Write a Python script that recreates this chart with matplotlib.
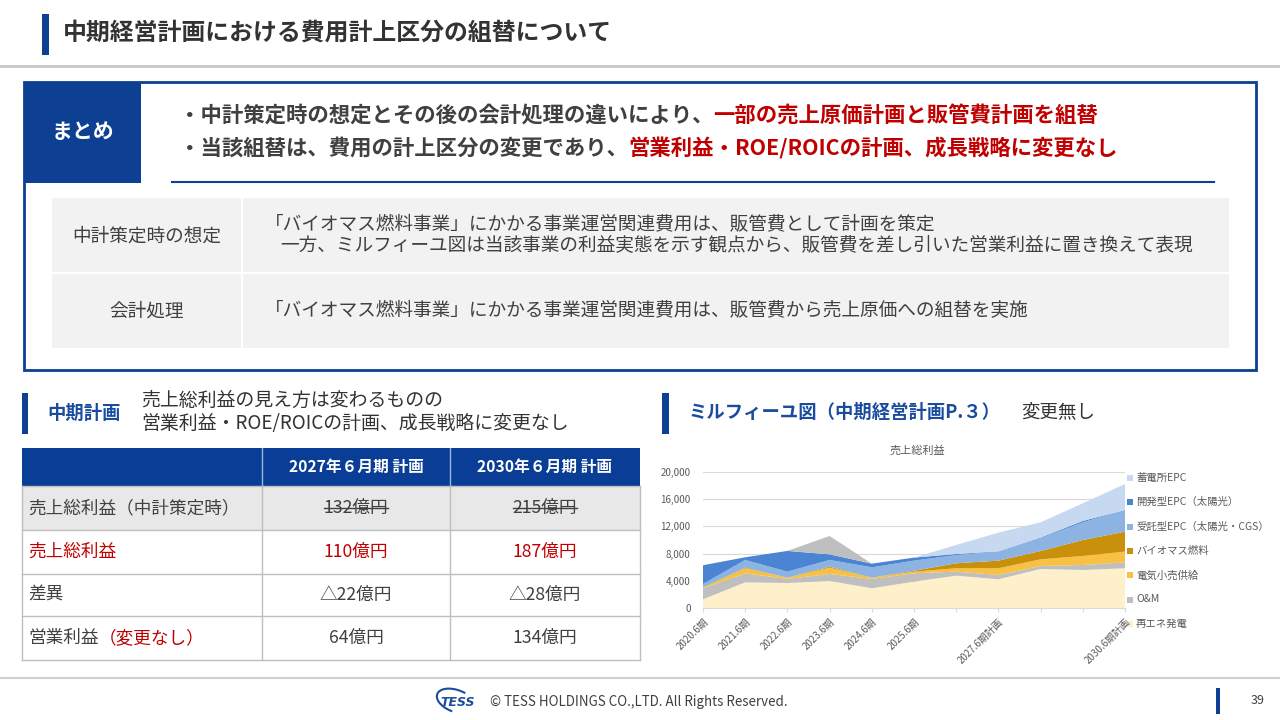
import matplotlib
matplotlib.use('Agg')
import matplotlib.pyplot as plt
from matplotlib.patches import Rectangle, Arc
import numpy as np

plt.rcParams['font.family'] = ['Noto Sans CJK JP', 'DejaVu Sans']

# ---------------- data ----------------
periods = ['2020.6期', '2021.6期', '2022.6期', '2023.6期', '2024.6期', '2025.6期',
           '', '2027.6期計画', '', '', '2030.6期計画']
renewable = [1320, 3800, 3700, 4000, 2930, 3900, 4780, 4250, 5760, 5610, 5860]
om = [1610, 1320, 600, 1030, 1370, 1220, 590, 630, 440, 730, 870]
retail = [120, 740, 190, 920, 190, 250, 490, 980, 970, 1320, 1570]
biomass = [0, 90, 0, 150, 0, 130, 730, 1120, 1220, 2340, 2920]
epc_contract = [510, 1130, 880, 980, 1510, 1480, 1210, 1320, 1860, 2590, 3180]
epc_dev = [2740, 390, 3030, 820, 540, 440, 150, 40, 100, 200, 0]
epc_storage = [0, 0, 0, 0, 0, 0, 1320, 2740, 2240, 2580, 3800]
other = [0, 0, 0, 2690, 0, 0, 0, 0, 0, 0, 0]

series_names = ['再エネ発電', 'O&M', '電気小売供給', 'バイオマス燃料',
                '受託型EPC（太陽光・CGS）', '開発型EPC（太陽光）', '蓄電所EPC']
series_colors = ['#FFF0CC', '#BFBFBF', '#F8C143', '#C9900B',
                 '#8DB3E2', '#4A84D2', '#C6D9F0']
other_color = '#BFBFBF'

table_header = ['2027年６月期 計画', '2030年６月期 計画']
row_gp_initial = ['132億円', '215億円']
row_gp_new = ['110億円', '187億円']
row_diff = ['△22億円', '△28億円']
row_op = ['64億円', '134億円']

# ---------------- figure ----------------
fig = plt.figure(figsize=(12.8, 7.2), dpi=100)
bg = fig.add_axes([0, 0, 1, 1])
bg.set_xlim(0, 1280)
bg.set_ylim(720, 0)
bg.axis('off')
renderer = fig.canvas.get_renderer()

NAVY = '#0D3F92'
TXT = '#404040'
RED = '#C00000'


def rect(x0, y0, x1, y1, **kw):
    bg.add_patch(Rectangle((x0, y0), x1 - x0, y1 - y0, **kw))


def rich(x, y, parts, **kw):
    for s, c in parts:
        t = bg.text(x, y, s, color=c, ha='left', va='center', **kw)
        bb = t.get_window_extent(renderer=renderer)
        x += bb.width
    return x


# title
rect(42, 14, 49, 55, color=NAVY, lw=0)
bg.text(63, 33, '中期経営計画における費用計上区分の組替について', fontsize=17.2,
        fontweight='bold', color='#333333', ha='left', va='center')
bg.plot([0, 1280], [65.5, 65.5], color='#C8C8C8', lw=2)

# summary box
rect(24, 82, 1256, 370, facecolor='white', edgecolor=NAVY, lw=2)
rect(24, 82, 141, 183, color=NAVY, lw=0)
bg.text(82.5, 131, 'まとめ', fontsize=15, fontweight='bold', color='white',
        ha='center', va='center')
rich(179, 115, [('・中計策定時の想定とその後の会計処理の違いにより、', TXT),
                ('一部の売上原価計画と販管費計画を組替', RED)],
     fontsize=15.4, fontweight='bold')
rich(179, 148, [('・当該組替は、費用の計上区分の変更であり、', TXT),
                ('営業利益・ROE/ROICの計画、成長戦略に変更なし', RED)],
     fontsize=15.4, fontweight='bold')
bg.plot([172, 1214], [182, 182], color=NAVY, lw=1.5)

rect(52, 198, 241, 272, color='#F2F2F2', lw=0)
rect(243, 198, 1229, 272, color='#F2F2F2', lw=0)
rect(52, 274, 241, 348, color='#F2F2F2', lw=0)
rect(243, 274, 1229, 348, color='#F2F2F2', lw=0)
BFS = 13.45
bg.text(147, 236, '中計策定時の想定', fontsize=BFS, color=TXT, ha='center', va='center')
bg.text(147, 311, '会計処理', fontsize=BFS, color=TXT, ha='center', va='center')
bg.text(265, 224, '「バイオマス燃料事業」にかかる事業運営関連費用は、販管費として計画を策定',
        fontsize=BFS, color=TXT, ha='left', va='center')
bg.text(280, 246, '一方、ミルフィーユ図は当該事業の利益実態を示す観点から、販管費を差し引いた営業利益に置き換えて表現',
        fontsize=BFS, color=TXT, ha='left', va='center')
bg.text(265, 311, '「バイオマス燃料事業」にかかる事業運営関連費用は、販管費から売上原価への組替を実施',
        fontsize=BFS, color=TXT, ha='left', va='center')

# bottom-left header
rect(22, 393, 28, 434, color=NAVY, lw=0)
bg.text(47, 413, '中期計画', fontsize=13.2, fontweight='bold', color='#1A4C9E',
        ha='left', va='center')
bg.text(141, 400, '売上総利益の見え方は変わるものの', fontsize=13.6, color='#333333',
        ha='left', va='center')
bg.text(141, 423, '営業利益・ROE/ROICの計画、成長戦略に変更なし', fontsize=13.6,
        color='#333333', ha='left', va='center')

# table
cols = [22, 262, 450, 640]
rows = [448, 486, 530, 574, 616, 660]
rect(cols[0], rows[0], cols[3], rows[1], color='#0A3D96', lw=0)
rect(cols[0], rows[1], cols[3], rows[2], color='#E8E8E8', lw=0)
for r in rows[1:]:
    bg.plot([cols[0], cols[3]], [r, r], color='#BFBFBF', lw=1)
for c in cols:
    bg.plot([c, c], [rows[1], rows[-1]], color='#BFBFBF', lw=1)
for c in cols[1:3]:
    bg.plot([c, c], [rows[0], rows[1]], color='#9FB4D8', lw=1)
centers = [(cols[1] + cols[2]) / 2, (cols[2] + cols[3]) / 2]
for cx, h in zip(centers, table_header):
    bg.text(cx, 467, h, fontsize=11.3, fontweight='bold', color='white',
            ha='center', va='center')
row_mid = [(rows[i] + rows[i + 1]) / 2 for i in range(1, 5)]
LFS = 12.7
bg.text(28, row_mid[0], '売上総利益（中計策定時）', fontsize=LFS, color=TXT, ha='left', va='center')
bg.text(28, row_mid[1], '売上総利益', fontsize=LFS, color=RED, ha='left', va='center')
bg.text(28, row_mid[2], '差異', fontsize=LFS, color=TXT, ha='left', va='center')
rich(28, row_mid[3], [('営業利益', TXT), ('（変更なし）', RED)], fontsize=LFS)
for cx, a, b, d, o in zip(centers, row_gp_initial, row_gp_new, row_diff, row_op):
    t = bg.text(cx, row_mid[0], a, fontsize=LFS, color=TXT, ha='center', va='center')
    bb = t.get_window_extent(renderer=renderer)
    bg.plot([bb.x0, bb.x1], [row_mid[0], row_mid[0]], color=TXT, lw=1)
    bg.text(cx, row_mid[1], b, fontsize=LFS, color=RED, ha='center', va='center')
    bg.text(cx, row_mid[2], d, fontsize=LFS, color=TXT, ha='center', va='center')
    bg.text(cx, row_mid[3], o, fontsize=LFS, color=TXT, ha='center', va='center')

# right header
rect(662, 393, 669, 434, color=NAVY, lw=0)
bg.text(688, 412, 'ミルフィーユ図（中期経営計画P.３）', fontsize=13.2, fontweight='bold',
        color='#1A4C9E', ha='left', va='center')
bg.text(1021, 412, '変更無し', fontsize=13.3, color='#333333', ha='left', va='center')

# stacked area chart
x0p, x1p, y0p, y1p = 703, 1125, 608.3, 471.7
ax = fig.add_axes([x0p / 1280, (720 - y0p) / 720, (x1p - x0p) / 1280, (y0p - y1p) / 720])
xs = np.arange(len(periods))
stack = [renewable, om, retail, biomass, epc_contract, epc_dev, epc_storage, other]
ax.stackplot(xs, *stack, colors=series_colors + [other_color], lw=0)
ax.set_xlim(0, len(periods) - 1)
ax.set_ylim(0, 20000)
ax.set_yticks(np.arange(0, 20001, 4000))
ax.set_yticklabels([f'{v:,}' for v in range(0, 20001, 4000)])
ax.set_xticks(xs)
ax.set_xticklabels(periods, rotation=45, ha='right', rotation_mode='anchor')
ax.grid(axis='y', color='#D9D9D9', lw=0.8)
ax.set_axisbelow(True)
for s in ax.spines.values():
    s.set_visible(False)
ax.spines['bottom'].set_visible(True)
ax.spines['bottom'].set_color('#D9D9D9')
ax.spines['bottom'].set_linewidth(0.8)
ax.tick_params(axis='y', length=0, labelsize=7, labelcolor='#595959', pad=9)
ax.tick_params(axis='x', length=3, color='#D9D9D9', labelsize=7, labelcolor='#595959', pad=3)
ax.patch.set_alpha(0)
bg.text(917, 450, '売上総利益', fontsize=8, color='#595959', ha='center', va='center')

# legend (manual, reversed stack order)
for i, (name, col) in enumerate(zip(series_names[::-1], series_colors[::-1])):
    ly = 478 + i * 24.3
    rect(1127, ly - 3, 1133, ly + 3, color=col, lw=0)
    bg.text(1136, ly, name, fontsize=7.5, color='#595959', ha='left', va='center')

# footer
bg.plot([0, 1280], [678, 678], color='#D0D0D0', lw=1.5)
bg.add_patch(Arc((456, 701), 40, 22, angle=20, theta1=90, theta2=300, color='#1A4C9E', lw=1.5))
bg.text(440, 703, 'TESS', fontsize=9, fontweight='bold', fontstyle='italic', color='#1A4C9E',
        ha='left', va='center', family=['DejaVu Sans'])
bg.text(490, 702, '© TESS HOLDINGS CO.,LTD. All Rights Reserved.', fontsize=9.6,
        color='#404040', ha='left', va='center')
rect(1216, 688, 1220, 714, color=NAVY, lw=0)
bg.text(1258, 701, '39', fontsize=9, color='#404040', ha='center', va='center')

fig.savefig('out.png', dpi=100)
